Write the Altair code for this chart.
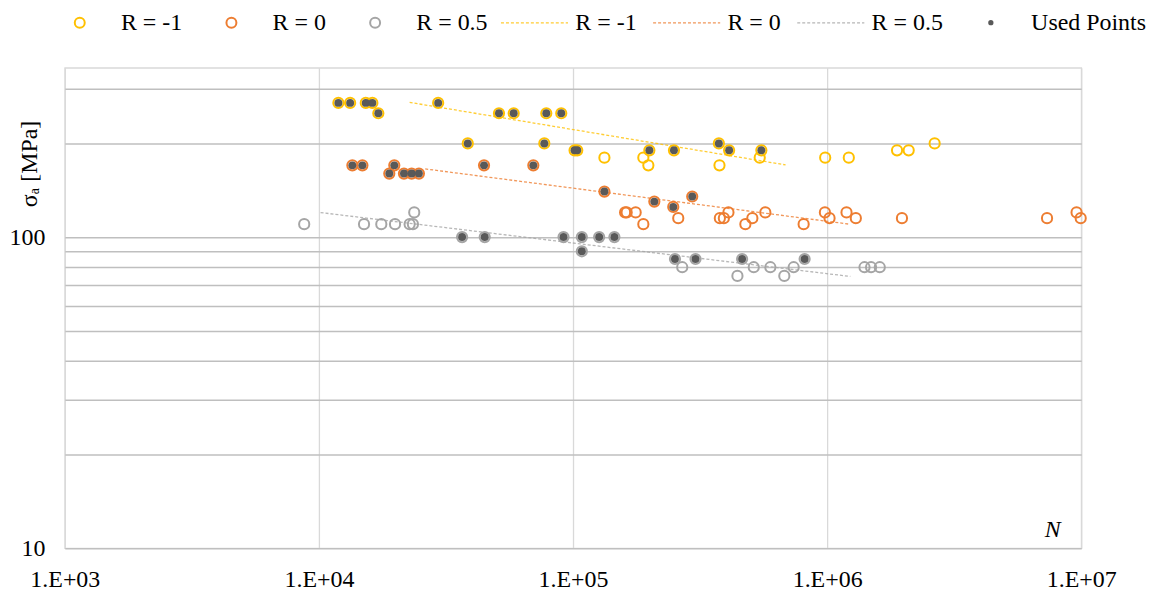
import altair as alt
import pandas as pd

FONT = "Liberation Serif"

# ---- data ----
series_names = ["R = -1", "R = 0", "R = 0.5"]
series_colors = ["#FFC000", "#ED7D31", "#A5A5A5"]

y1_N = [11930, 13270, 15290, 16230, 17130, 29460, 38530, 51120, 58410, 77090,
        78480, 89880, 101400, 103900, 132900, 189100, 197900, 199700, 249600,
        374900, 377000, 411400, 542900, 551000, 982600, 1217000, 1884000,
        2094000, 2649000]
y1_S = [270, 270, 270, 270, 250, 270, 200, 250, 250, 200,
        250, 250, 190, 190, 180, 180, 170, 190, 190,
        200, 170, 190, 180, 190, 180, 180, 190,
        190, 200]
y1_used = [1, 1, 1, 1, 1, 1, 1, 1, 1, 1,
           1, 1, 1, 1, 0, 0, 0, 1, 1,
           1, 0, 1, 0, 1, 0, 0, 0,
           0, 0]

y2_N = [13540, 14830, 18920, 19800, 21610, 23170, 24750, 44650, 69780, 132900,
        160300, 162600, 176400, 189100, 208900, 248000, 259500, 294500, 378300,
        392300, 408900, 476700, 507800, 571200, 808200, 980000, 1022000,
        1192000, 1297000, 1970000, 7335000, 9585000, 9950000]
y2_S = [170, 170, 160, 170, 160, 160, 160, 170, 170, 140,
        120, 120, 120, 110, 130, 125, 115, 135, 115,
        115, 120, 110, 115, 120, 110, 120, 115,
        120, 115, 115, 115, 120, 115]
y2_used = [1, 1, 1, 1, 1, 1, 1, 1, 1, 1,
           0, 0, 0, 0, 1, 1, 0, 1, 0,
           0, 0, 0, 0, 0, 0, 0, 0,
           0, 0, 0, 0, 0, 0]

y3_N = [8752, 15050, 17600, 19930, 22750, 23440, 23720, 36600, 44930, 91760,
        108300, 108300, 126700, 145500, 251900, 269000, 303400, 443600, 462800,
        514300, 597700, 678400, 738500, 815500, 1403000, 1489000, 1611000]
y3_S = [110, 110, 110, 110, 110, 110, 120, 100, 100, 100,
        100, 90, 100, 100, 85, 80, 85, 75, 85,
        80, 80, 75, 80, 85, 80, 80, 80]
y3_used = [0, 0, 0, 0, 0, 0, 0, 1, 1, 1,
           1, 1, 1, 1, 1, 0, 1, 0, 1,
           0, 0, 0, 0, 1, 0, 0, 0]

# trend line end points (power-law fits, straight on log-log axes)
trend_N = [[22750, 686300], [26200, 1216000], [10150, 1234000]]
trend_S = [[271.0, 170.6], [165.6, 110.1], [119.9, 74.7]]

x_ticks = [1e3, 1e4, 1e5, 1e6, 1e7]
y_grid = [10, 20, 30, 40, 50, 60, 70, 80, 90, 100, 200, 300]

# ---- tables ----
rows = []
for name, Ns, Ss, Us in zip(series_names, [y1_N, y2_N, y3_N], [y1_S, y2_S, y3_S],
                            [y1_used, y2_used, y3_used]):
    for n, s, u in zip(Ns, Ss, Us):
        rows.append({"series": name, "N": n, "S": s, "used": u})
pts = pd.DataFrame(rows)
used = pts[pts["used"] == 1].copy()
used["lab"] = "Used Points"

trows = []
for name, Ns, Ss in zip(series_names, trend_N, trend_S):
    for i, (n, s) in enumerate(zip(Ns, Ss)):
        trows.append({"trend": name, "N": n, "S": s, "order": i})
trend = pd.DataFrame(trows)

xscale = alt.Scale(type="log", domain=[1e3, 1e7], nice=False)
yscale = alt.Scale(type="log", domain=[10, 350], nice=False)

x_axis = alt.Axis(
    values=x_ticks,
    labelExpr="'1.E+0' + round(log(datum.value) / LN10)",
    grid=True, gridColor="#D9D9D9", gridWidth=1.3,
    ticks=False, tickSize=0, domain=False,
    labelFont=FONT, labelFontSize=24, labelColor="black",
    labelBaseline="alphabetic", labelPadding=38,
    labelFlush=False, labelOverlap=False,
    title="N", titleFont=FONT, titleFontSize=24, titleFontStyle="italic",
    titleFontWeight="normal", titleColor="black",
    titleX=991, titleY=-12, titleAlign="center", titleBaseline="alphabetic",
)
y_axis = alt.Axis(
    values=y_grid,
    labelExpr="datum.value == 10 || datum.value == 100 ? format(datum.value, 'd') : ''",
    grid=True, gridColor="#BFBFBF", gridWidth=1.5,
    ticks=False, tickSize=0, domain=False,
    labelFont=FONT, labelFontSize=24, labelColor="black",
    labelPadding=20, labelOverlap=False, labelFlush=False,
    title="σₐ [MPa]", titleFont=FONT, titleFontSize=24, titleFontWeight="normal",
    titleColor="black", titleAngle=270, titleX=-28, titleY=96,
    titleAlign="center", titleBaseline="alphabetic",
)

common_legend = dict(title=None, orient="none", direction="horizontal",
                     labelFont=FONT, labelFontSize=24, labelColor="black",
                     labelLimit=300, padding=0)

circles = alt.Chart(pts).mark_point(
    shape="circle", filled=False, size=105, strokeWidth=2, opacity=1
).encode(
    x=alt.X("N:Q", scale=xscale, axis=x_axis),
    y=alt.Y("S:Q", scale=yscale, axis=y_axis),
    color=alt.Color("series:N",
                    scale=alt.Scale(domain=series_names, range=series_colors),
                    legend=alt.Legend(legendX=3, legendY=-57.3,
                                      symbolType="circle", symbolSize=100,
                                      symbolStrokeWidth=2, labelOffset=29.3,
                                      columnPadding=37.2, **common_legend)),
)

lines = alt.Chart(trend).mark_line(
    strokeDash=[3, 2], strokeWidth=1.3, opacity=0.8
).encode(
    x=alt.X("N:Q", scale=xscale),
    y=alt.Y("S:Q", scale=yscale),
    order="order:Q",
    color=alt.Color("trend:N",
                    scale=alt.Scale(domain=series_names, range=series_colors),
                    legend=alt.Legend(legendX=436.85, legendY=-79.8,
                                      symbolType="stroke", symbolSize=4529,
                                      symbolStrokeWidth=1.3, symbolDash=[3, 2],
                                      labelOffset=6.45, columnPadding=13.65,
                                      **common_legend)),
)

dots = alt.Chart(used).mark_point(
    shape="circle", filled=True, size=64, opacity=1
).encode(
    x=alt.X("N:Q", scale=xscale),
    y=alt.Y("S:Q", scale=yscale),
    color=alt.Color("lab:N",
                    scale=alt.Scale(domain=["Used Points"], range=["#595959"]),
                    legend=alt.Legend(legendX=917.3, legendY=-57.3,
                                      symbolType="circle", symbolSize=28,
                                      symbolStrokeWidth=0, labelOffset=28.4,
                                      **common_legend)),
)

chart = alt.layer(circles, lines, dots).resolve_scale(color="independent").properties(
    width=1020, height=482,
    autosize=alt.AutoSizeParams(type="none"),
    padding={"left": 57, "top": 59, "right": 70, "bottom": 45},
    background="white",
).configure_view(stroke="#D9D9D9", strokeWidth=1.3)

chart.save("out.html", embed_options={"renderer": "svg", "actions": False})
